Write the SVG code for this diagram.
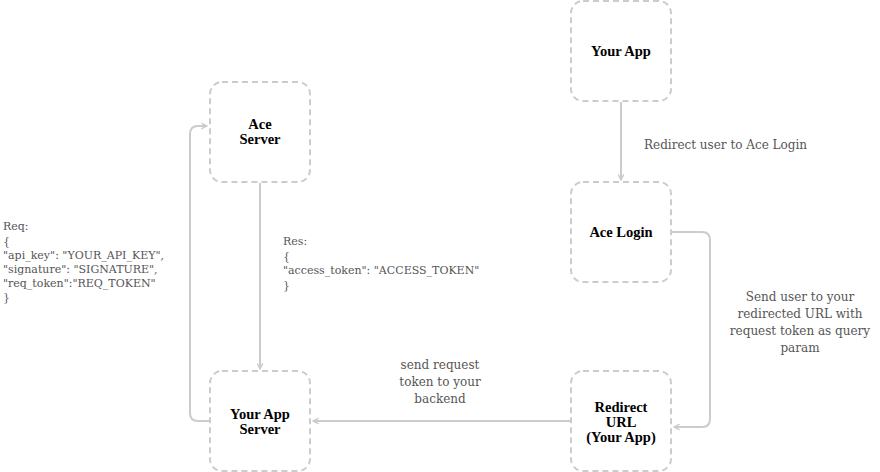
<svg xmlns="http://www.w3.org/2000/svg" width="880" height="472" viewBox="0 0 880 472">
<defs>
<style>
.node rect{fill:#fff;stroke:#ccc;stroke-width:2;stroke-dasharray:6 4}
.node text{font-family:"Liberation Serif",serif;font-size:14.5px;font-weight:bold;fill:#000;text-anchor:middle}
.edge{fill:none;stroke:#ccc;stroke-width:2;marker-end:url(#arr)}
.lbl{font-family:"DejaVu Serif",serif;font-size:12px;fill:#555}
.json{font-family:"DejaVu Serif",serif;font-size:11px;fill:#555}
.c{text-anchor:middle}
</style>
<marker id="arr" viewBox="0 0 10 10" refX="9" refY="5" markerWidth="7" markerHeight="7" markerUnits="userSpaceOnUse" orient="auto">
<path d="M1,1 L9,5 L1,9" fill="none" stroke="#ccc" stroke-width="2"/>
</marker>
</defs>
<rect width="880" height="472" fill="#fff"/>
<g id="connectors">
<path class="edge" d="M621,102 L621,180"/>
<path class="edge" d="M672,232 L702,232 Q710,232 710,240 L710,419 Q710,427 702,427 L674,427"/>
<path class="edge" d="M570,421 L313,421"/>
<path class="edge" d="M209,421 L198,421 Q190,421 190,413 L190,134 Q190,126 198,126 L207,126"/>
<path class="edge" d="M260,183 L260,369"/>
<text class="lbl" x="644" y="149">Redirect user to Ace Login</text>
<text class="lbl c" x="800" y="301">Send user to your</text>
<text class="lbl c" x="800" y="318">redirected URL with</text>
<text class="lbl c" x="800" y="335">request token as query</text>
<text class="lbl c" x="800" y="352">param</text>
<text class="lbl c" x="440" y="369">send request</text>
<text class="lbl c" x="440" y="386">token to your</text>
<text class="lbl c" x="440" y="403">backend</text>
<text class="json" x="283" y="245">Res:</text>
<text class="json" x="283" y="260">{</text>
<text class="json" x="283" y="274">"access_token": "ACCESS_TOKEN"</text>
<text class="json" x="283" y="289">}</text>
<text class="json" x="3" y="230">Req:</text>
<text class="json" x="3" y="245">{</text>
<text class="json" x="3" y="259">"api_key": "YOUR_API_KEY",</text>
<text class="json" x="3" y="273">"signature": "SIGNATURE",</text>
<text class="json" x="3" y="287">"req_token":"REQ_TOKEN"</text>
<text class="json" x="3" y="301">}</text>
</g>
<g id="your-app" class="node"><rect x="571" y="1" width="100" height="100" rx="12"/><text x="621" y="56">Your App</text></g>
<g id="ace-login" class="node"><rect x="571" y="182" width="100" height="100" rx="12"/><text x="621" y="237">Ace Login</text></g>
<g id="redirect-url" class="node"><rect x="571" y="371" width="100" height="100" rx="12"/><text x="621" y="412">Redirect</text><text x="621" y="427">URL</text><text x="621" y="442">(Your App)</text></g>
<g id="ace-server" class="node"><rect x="210" y="82" width="100" height="100" rx="12"/><text x="260" y="129">Ace</text><text x="260" y="144">Server</text></g>
<g id="your-app-server" class="node"><rect x="210" y="371" width="100" height="100" rx="12"/><text x="260" y="419">Your App</text><text x="260" y="434">Server</text></g>
</svg>
